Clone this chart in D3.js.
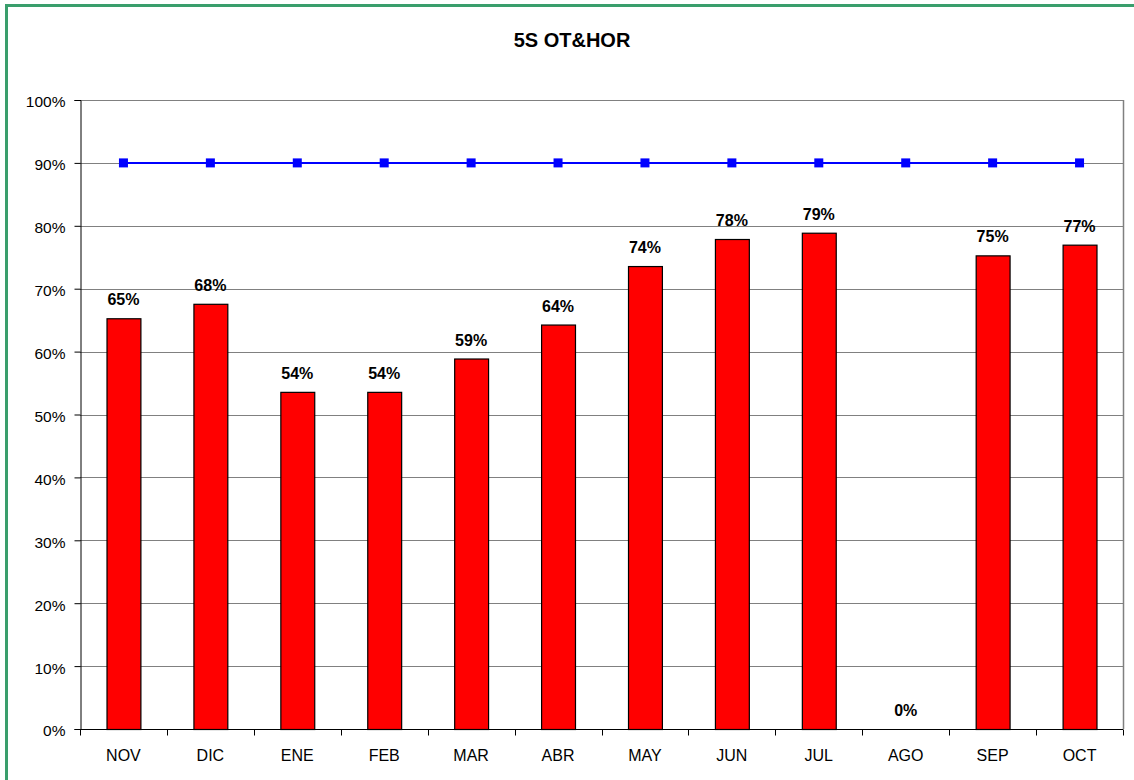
<!DOCTYPE html>
<html>
<head>
<meta charset="utf-8">
<script src="https://cdn.jsdelivr.net/npm/d3@7"></script>
<style>
  html, body { margin: 0; padding: 0; background: #fff; }
  svg { display: block; font-family: "Liberation Sans", Arial, sans-serif; }
</style>
</head>
<body>
<svg id="chart" width="1134" height="780"></svg>
<script>
// Monthly 5S audit score and target
const months = ["NOV", "DIC", "ENE", "FEB", "MAR", "ABR", "MAY", "JUN", "JUL", "AGO", "SEP", "OCT"];
const scores = [0.653, 0.676, 0.536, 0.536, 0.589, 0.643, 0.736, 0.779, 0.789, 0, 0.753, 0.770];
const target = [0.9, 0.9, 0.9, 0.9, 0.9, 0.9, 0.9, 0.9, 0.9, 0.9, 0.9, 0.9];
const yTicks = [0, 0.1, 0.2, 0.3, 0.4, 0.5, 0.6, 0.7, 0.8, 0.9, 1.0];
const title = "5S OT&HOR";

const svg = d3.select("#chart");
const W = 1134, H = 780;
const plot = { left: 80, right: 1123, top: 100, bottom: 729 };

// chart frame (green outline)
svg.append("rect")
  .attr("x", 6.5).attr("y", 5.5)
  .attr("width", W + 10).attr("height", H + 10)
  .attr("fill", "#fff")
  .attr("stroke", "#3a9e6c").attr("stroke-width", 3);

svg.append("text")
  .attr("x", 572).attr("y", 46.5)
  .attr("text-anchor", "middle")
  .attr("font-size", 20).attr("font-weight", "bold")
  .text(title);

const x = d3.scaleBand().domain(months)
  .range([plot.left, plot.right]).paddingInner(0.61).paddingOuter(0.305);
const xCat = d3.scaleBand().domain(months).range([plot.left, plot.right]);
const y = d3.scaleLinear().domain([0, 1]).range([plot.bottom, plot.top]);

// gridlines
svg.append("g").selectAll("line").data(yTicks.filter(t => t > 0))
  .join("line")
  .attr("x1", plot.left).attr("x2", plot.right)
  .attr("y1", d => Math.round(y(d)) + 0.5).attr("y2", d => Math.round(y(d)) + 0.5)
  .attr("stroke", "#808080").attr("stroke-width", 1);

// right border of plot area
svg.append("line")
  .attr("x1", plot.right + 0.5).attr("x2", plot.right + 0.5)
  .attr("y1", plot.top).attr("y2", plot.bottom)
  .attr("stroke", "#808080").attr("stroke-width", 1.5);

// y axis
const yAxis = d3.axisLeft(y).tickValues(yTicks).tickFormat(d3.format(".0%"))
  .tickSize(6).tickPadding(9);
const gy = svg.append("g").attr("transform", `translate(${plot.left + 0.5},0)`).call(yAxis);
gy.select(".domain").attr("stroke", "#000");
gy.selectAll(".tick line").attr("stroke", "#000");
gy.selectAll(".tick text").attr("font-size", 15.5).attr("fill", "#000").attr("dy", "0.45em")
  .attr("font-family", "Liberation Sans, Arial, sans-serif");

// bars
svg.append("g").selectAll("rect").data(months.map((m, i) => ({ m, v: scores[i] })))
  .join("rect")
  .attr("x", d => x(d.m) + 0.5)
  .attr("y", d => y(d.v) + 0.5)
  .attr("width", x.bandwidth())
  .attr("height", d => Math.max(0, y(0) - y(d.v)))
  .attr("fill", "#ff0000").attr("stroke", "#000").attr("stroke-width", 1.2)
  .attr("visibility", d => d.v > 0 ? "visible" : "hidden");

// x axis (ticks at category boundaries)
const gx = svg.append("g").attr("transform", `translate(0,${plot.bottom + 0.5})`);
gx.append("line").attr("x1", plot.left).attr("x2", plot.right)
  .attr("stroke", "#000");
gx.selectAll("line.tk").data(months.map(m => xCat(m)).concat([plot.right]))
  .join("line").attr("class", "tk")
  .attr("x1", d => Math.round(d) + 0.5).attr("x2", d => Math.round(d) + 0.5)
  .attr("y1", 0).attr("y2", 6).attr("stroke", "#000");
gx.selectAll("text").data(months).join("text")
  .attr("x", d => xCat(d) + xCat.bandwidth() / 2)
  .attr("y", 31)
  .attr("text-anchor", "middle")
  .attr("font-size", 16)
  .text(d => d);

// value labels
svg.append("g").selectAll("text").data(months.map((m, i) => ({ m, v: scores[i] })))
  .join("text")
  .attr("x", d => x(d.m) + x.bandwidth() / 2)
  .attr("y", d => y(d.v) - 13)
  .attr("text-anchor", "middle")
  .attr("font-size", 16).attr("font-weight", "bold")
  .text(d => d3.format(".0%")(d.v));

// target line
const line = d3.line().x((d, i) => xCat(months[i]) + xCat.bandwidth() / 2).y(d => y(d));
svg.append("path").datum(target)
  .attr("d", line).attr("fill", "none")
  .attr("stroke", "#0000ff").attr("stroke-width", 2);
svg.append("g").selectAll("rect").data(target)
  .join("rect")
  .attr("x", (d, i) => xCat(months[i]) + xCat.bandwidth() / 2 - 4.5)
  .attr("y", d => y(d) - 4.5)
  .attr("width", 9).attr("height", 9)
  .attr("fill", "#0000ff");
</script>
</body>
</html>
